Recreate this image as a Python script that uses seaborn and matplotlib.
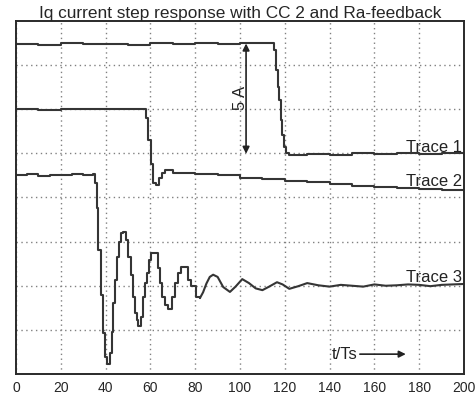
import numpy as np
import pandas as pd
import matplotlib
matplotlib.use('Agg')
import matplotlib.pyplot as plt
import seaborn as sns

# values in grid divisions (2 A per division), time in samples t/Ts
t1 = [0, 10, 20, 30, 40, 50, 60, 70, 80, 90, 100, 110, 114.6, 115.2, 116.1, 117.0, 117.4,
      118.1, 118.8, 119.6, 120.5, 122, 130, 140, 150, 160, 170, 180, 190, 200]
y1 = [7.48, 7.46, 7.5, 7.47, 7.48, 7.46, 7.49, 7.47, 7.49, 7.47, 7.5, 7.5, 7.5, 7.35, 6.9,
      6.5, 6.2, 5.76, 5.42, 5.15, 5.01, 4.97, 4.99, 4.97, 5.0, 4.98, 5.0, 4.98, 5.0, 4.99]

t2 = [0, 10, 20, 30, 40, 50, 57.6, 58.2, 59, 60.3, 61.2, 62.5, 64.0, 65.0, 66.5, 69, 70,
      80, 90, 100, 110, 120, 130, 140, 150, 160, 170, 180, 190, 200]
y2 = [6.0, 5.99, 6.0, 6.01, 6.0, 6.0, 6.0, 5.8, 5.3, 4.75, 4.33, 4.28, 4.44, 4.55, 4.63,
      4.62, 4.55, 4.54, 4.5, 4.45, 4.42, 4.37, 4.34, 4.3, 4.27, 4.24, 4.22, 4.19, 4.16, 4.14]

# trace 3: sampled staircase part, then smooth settling part
t3_steps = [0, 5, 10, 15, 20, 25, 30, 34.5, 35.3, 36.0, 36.6, 37.8, 38.7, 39.7, 40.5, 42.0,
            42.7, 43.3, 44.2, 45.1, 46.0, 46.9, 47.6, 49.1, 50.0, 51.3, 52.2, 53.1, 54.0,
            54.6, 55.8, 56.7, 57.6, 58.5, 59.4, 60.3, 63.2, 64.3, 65.2, 66.5, 68.0, 69.6,
            71.0, 72.3, 73.5, 77.0, 78.1, 80.4, 82.1]
y3_steps = [4.5, 4.53, 4.49, 4.52, 4.5, 4.54, 4.52, 4.53, 4.33, 3.76, 2.81, 1.79, 0.93,
            0.39, 0.23, 0.48, 0.95, 1.6, 2.13, 2.65, 3.0, 3.2, 3.22, 3.04, 2.65, 2.24, 1.75,
            1.38, 1.22, 1.09, 1.29, 1.75, 2.06, 2.29, 2.58, 2.74, 2.4, 2.06, 1.75, 1.56,
            1.47, 1.75, 2.06, 2.29, 2.42, 2.13, 2.0, 1.75, 1.72]
t3_smooth = [82.1, 83.5, 85, 86.5, 88, 90, 92.5, 95.5, 98, 101, 104, 107, 110, 113, 116.5,
             119, 122, 126, 130, 135, 140, 145, 150, 155, 160, 165, 170, 175, 180, 185,
             190, 195, 200]
y3_smooth = [1.72, 1.85, 2.05, 2.2, 2.25, 2.2, 1.97, 1.86, 1.98, 2.15, 2.06, 1.94, 1.9, 1.98,
             2.08, 2.03, 1.93, 1.99, 2.06, 2.01, 1.98, 2.02, 2.0, 1.98, 2.03, 2.0, 2.01,
             2.03, 2.02, 1.99, 2.02, 2.03, 2.04]

x_ticks = [0, 20, 40, 60, 80, 100, 120, 140, 160, 180, 200]

sns.set_style('white')
plt.rcParams['font.family'] = ['Liberation Sans', 'DejaVu Sans']

fig = plt.figure(figsize=(4.75, 3.98), dpi=100)
ax = fig.add_axes([0.0337, 0.0603, 0.9432, 0.8870])

line_col = '#353535'
for t, y, ds in [(t1, y1, 'steps-post'), (t2, y2, 'steps-post'),
                 (t3_steps, y3_steps, 'steps-post'), (t3_smooth, y3_smooth, 'default')]:
    df = pd.DataFrame({'t': t, 'y': y})
    sns.lineplot(data=df, x='t', y='y', ax=ax, color=line_col, linewidth=1.5,
                 drawstyle=ds, estimator=None)

ax.set_xlim(0, 200)
ax.set_ylim(0, 8)
ax.set_xticks(x_ticks)
ax.set_xticklabels([str(v) for v in x_ticks])
ax.set_yticks(range(1, 8))
ax.set_yticklabels([])
ax.tick_params(axis='both', length=0, labelsize=10, pad=5)
ax.set_xlabel('')
ax.set_ylabel('')
ax.grid(True, color='#808080', linestyle=(0, (1, 2.5)), linewidth=1)
for s in ax.spines.values():
    s.set_color('#2a2a2a')
    s.set_linewidth(1.4)

ax.set_title('Iq current step response with CC 2 and Ra-feedback', fontsize=12.4, pad=2)

ax.text(199.2, 5.04, 'Trace 1', ha='right', va='baseline', fontsize=12, color='#222222')
ax.text(199.2, 4.25, 'Trace 2', ha='right', va='baseline', fontsize=12, color='#222222')
ax.text(199.2, 2.09, 'Trace 3', ha='right', va='baseline', fontsize=12, color='#222222')

ax.annotate('', xy=(102.7, 7.49), xytext=(102.7, 4.99),
            arrowprops=dict(arrowstyle='<|-|>', color='#222222', lw=1.2,
                            mutation_scale=10, shrinkA=0, shrinkB=0))
ax.text(100.0, 6.25, '5 A', rotation=90, ha='center', va='center', fontsize=12,
        color='#222222')

ax.text(141.0, 0.45, 't/Ts', ha='left', va='center', fontsize=12, color='#222222')
ax.annotate('', xy=(174, 0.45), xytext=(153.5, 0.45),
            arrowprops=dict(arrowstyle='-|>', color='#222222', lw=1.2,
                            mutation_scale=10, shrinkA=0, shrinkB=0))

fig.savefig('out.png', dpi=100)
